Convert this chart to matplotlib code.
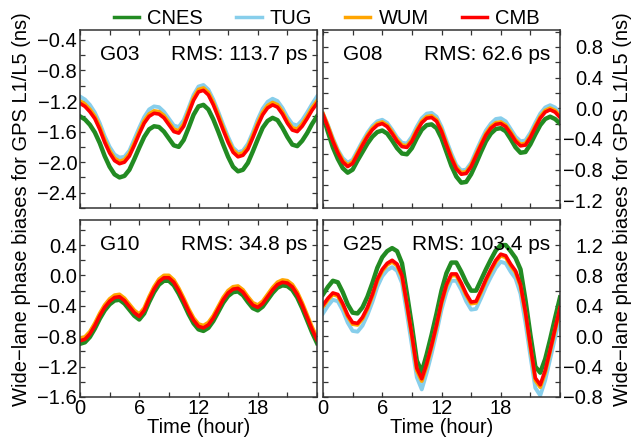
import numpy as np
import matplotlib
matplotlib.use("Agg")
import matplotlib.pyplot as plt
from matplotlib.ticker import MultipleLocator, FuncFormatter
from matplotlib.lines import Line2D

plt.rcParams["font.family"] = ["Liberation Sans", "DejaVu Sans"]

# ---- data (ns, half-hour steps) ----
hours = np.arange(0, 24.5, 0.5)

g03_cnes = [-1.40, -1.44, -1.51, -1.61, -1.75, -1.92, -2.06, -2.16, -2.20, -2.18, -2.10, -1.96, -1.81, -1.67, -1.57, -1.53, -1.54, -1.60, -1.69, -1.78, -1.80, -1.71, -1.55, -1.38, -1.27, -1.25, -1.31, -1.44, -1.60, -1.77, -1.93, -2.06, -2.12, -2.10, -2.01, -1.86, -1.70, -1.55, -1.46, -1.42, -1.45, -1.55, -1.67, -1.77, -1.79, -1.72, -1.62, -1.50, -1.40]
g03_tug = [-1.14, -1.18, -1.25, -1.35, -1.49, -1.66, -1.80, -1.90, -1.94, -1.93, -1.85, -1.70, -1.55, -1.41, -1.31, -1.27, -1.28, -1.34, -1.43, -1.52, -1.54, -1.45, -1.29, -1.12, -1.01, -0.99, -1.05, -1.18, -1.34, -1.51, -1.67, -1.81, -1.87, -1.85, -1.76, -1.61, -1.44, -1.30, -1.21, -1.17, -1.20, -1.29, -1.41, -1.50, -1.52, -1.45, -1.35, -1.24, -1.14]
g03_wum = [-1.20, -1.24, -1.31, -1.40, -1.54, -1.71, -1.85, -1.95, -1.99, -1.97, -1.89, -1.75, -1.60, -1.46, -1.37, -1.33, -1.34, -1.39, -1.48, -1.57, -1.59, -1.50, -1.33, -1.16, -1.05, -1.03, -1.09, -1.22, -1.38, -1.55, -1.71, -1.84, -1.90, -1.88, -1.80, -1.65, -1.49, -1.35, -1.26, -1.22, -1.25, -1.34, -1.46, -1.55, -1.57, -1.50, -1.40, -1.29, -1.20]
g03_cmb = [-1.23, -1.27, -1.34, -1.43, -1.57, -1.74, -1.88, -1.98, -2.02, -2.00, -1.92, -1.78, -1.63, -1.49, -1.40, -1.36, -1.37, -1.42, -1.51, -1.60, -1.62, -1.53, -1.36, -1.19, -1.08, -1.06, -1.12, -1.25, -1.41, -1.58, -1.74, -1.87, -1.93, -1.91, -1.83, -1.68, -1.52, -1.38, -1.29, -1.25, -1.28, -1.37, -1.49, -1.58, -1.60, -1.53, -1.43, -1.32, -1.23]

g08_cnes = [-0.10, -0.31, -0.51, -0.66, -0.78, -0.84, -0.80, -0.68, -0.57, -0.46, -0.37, -0.31, -0.29, -0.33, -0.42, -0.52, -0.59, -0.60, -0.52, -0.39, -0.28, -0.22, -0.21, -0.26, -0.39, -0.57, -0.75, -0.89, -0.97, -0.96, -0.86, -0.72, -0.57, -0.43, -0.33, -0.27, -0.26, -0.30, -0.40, -0.51, -0.58, -0.57, -0.47, -0.34, -0.22, -0.14, -0.11, -0.14, -0.20]
g08_tug = [-0.07, -0.22, -0.39, -0.54, -0.65, -0.71, -0.67, -0.55, -0.43, -0.32, -0.23, -0.17, -0.15, -0.19, -0.28, -0.38, -0.45, -0.46, -0.37, -0.24, -0.13, -0.07, -0.06, -0.11, -0.24, -0.42, -0.59, -0.74, -0.81, -0.80, -0.71, -0.56, -0.42, -0.29, -0.20, -0.14, -0.13, -0.17, -0.27, -0.37, -0.43, -0.42, -0.32, -0.19, -0.07, 0.01, 0.04, 0.01, -0.07]
g08_wum = [-0.07, -0.23, -0.41, -0.56, -0.68, -0.74, -0.70, -0.58, -0.46, -0.35, -0.26, -0.20, -0.18, -0.22, -0.31, -0.41, -0.48, -0.49, -0.41, -0.28, -0.17, -0.11, -0.10, -0.15, -0.28, -0.46, -0.63, -0.77, -0.84, -0.83, -0.74, -0.60, -0.46, -0.33, -0.24, -0.19, -0.18, -0.22, -0.31, -0.41, -0.47, -0.46, -0.36, -0.23, -0.11, -0.03, 0.00, -0.03, -0.10]
g08_cmb = [-0.08, -0.25, -0.43, -0.58, -0.70, -0.76, -0.72, -0.60, -0.48, -0.37, -0.28, -0.22, -0.20, -0.24, -0.33, -0.43, -0.50, -0.51, -0.43, -0.30, -0.19, -0.13, -0.12, -0.17, -0.30, -0.48, -0.65, -0.79, -0.86, -0.85, -0.76, -0.62, -0.48, -0.35, -0.26, -0.21, -0.20, -0.24, -0.33, -0.43, -0.49, -0.48, -0.38, -0.25, -0.13, -0.05, -0.02, -0.05, -0.12]

# G10 has no TUG solution
g10_cnes = [-0.90, -0.88, -0.81, -0.70, -0.57, -0.46, -0.38, -0.33, -0.32, -0.37, -0.45, -0.53, -0.58, -0.50, -0.35, -0.22, -0.12, -0.07, -0.07, -0.13, -0.24, -0.37, -0.51, -0.63, -0.71, -0.73, -0.69, -0.60, -0.48, -0.36, -0.27, -0.22, -0.21, -0.26, -0.35, -0.43, -0.46, -0.41, -0.32, -0.23, -0.16, -0.13, -0.14, -0.19, -0.29, -0.43, -0.59, -0.75, -0.89]
g10_wum = [-0.83, -0.81, -0.74, -0.63, -0.50, -0.39, -0.31, -0.26, -0.25, -0.30, -0.38, -0.46, -0.51, -0.43, -0.28, -0.15, -0.05, 0.00, 0.00, -0.06, -0.17, -0.30, -0.44, -0.56, -0.64, -0.66, -0.62, -0.53, -0.41, -0.29, -0.20, -0.15, -0.14, -0.19, -0.28, -0.36, -0.39, -0.34, -0.25, -0.16, -0.09, -0.06, -0.07, -0.12, -0.22, -0.36, -0.52, -0.68, -0.82]
g10_cmb = [-0.86, -0.84, -0.77, -0.66, -0.53, -0.42, -0.34, -0.29, -0.28, -0.33, -0.41, -0.49, -0.54, -0.46, -0.31, -0.18, -0.08, -0.03, -0.03, -0.09, -0.20, -0.33, -0.47, -0.59, -0.67, -0.69, -0.65, -0.56, -0.44, -0.32, -0.23, -0.18, -0.17, -0.22, -0.31, -0.39, -0.42, -0.37, -0.28, -0.19, -0.12, -0.09, -0.10, -0.15, -0.25, -0.39, -0.55, -0.71, -0.85]

g25_cnes = [0.55, 0.65, 0.73, 0.71, 0.58, 0.42, 0.31, 0.30, 0.38, 0.52, 0.70, 0.90, 1.04, 1.12, 1.16, 1.12, 0.96, 0.56, 0.14, -0.32, -0.47, -0.24, 0.02, 0.30, 0.60, 0.83, 0.97, 0.97, 0.85, 0.71, 0.60, 0.60, 0.74, 0.88, 1.01, 1.13, 1.20, 1.20, 1.12, 1.03, 0.88, 0.48, 0.02, -0.40, -0.48, -0.30, -0.04, 0.24, 0.51]
g25_tug = [0.30, 0.40, 0.48, 0.46, 0.34, 0.18, 0.07, 0.06, 0.14, 0.28, 0.45, 0.65, 0.79, 0.87, 0.91, 0.86, 0.70, 0.30, -0.12, -0.54, -0.70, -0.48, -0.23, 0.05, 0.35, 0.58, 0.73, 0.73, 0.61, 0.46, 0.35, 0.36, 0.50, 0.65, 0.78, 0.90, 0.98, 0.96, 0.85, 0.76, 0.56, 0.18, -0.26, -0.68, -0.78, -0.58, -0.30, -0.02, 0.25]
g25_wum = [0.39, 0.48, 0.55, 0.53, 0.41, 0.26, 0.16, 0.15, 0.23, 0.36, 0.53, 0.73, 0.86, 0.94, 0.98, 0.93, 0.78, 0.40, 0.00, -0.45, -0.59, -0.39, -0.14, 0.13, 0.43, 0.66, 0.80, 0.80, 0.68, 0.54, 0.43, 0.44, 0.58, 0.73, 0.86, 0.98, 1.06, 1.04, 0.93, 0.84, 0.66, 0.30, -0.15, -0.58, -0.67, -0.48, -0.20, 0.08, 0.36]
g25_cmb = [0.41, 0.50, 0.57, 0.55, 0.43, 0.28, 0.18, 0.17, 0.25, 0.38, 0.55, 0.75, 0.88, 0.96, 1.00, 0.95, 0.80, 0.42, 0.02, -0.42, -0.56, -0.36, -0.12, 0.15, 0.45, 0.68, 0.82, 0.82, 0.70, 0.56, 0.45, 0.46, 0.60, 0.75, 0.88, 1.00, 1.08, 1.06, 0.95, 0.86, 0.68, 0.32, -0.12, -0.55, -0.64, -0.45, -0.18, 0.10, 0.38]

sats = ["G03", "G08", "G10", "G25"]
rms = ["113.7", "62.6", "34.8", "103.4"]
ylims = [(-2.6, -0.27), (-1.3, 1.02), (-1.6, 0.73), (-0.8, 1.53)]
series = [
    {"CNES": g03_cnes, "TUG": g03_tug, "WUM": g03_wum, "CMB": g03_cmb},
    {"CNES": g08_cnes, "TUG": g08_tug, "WUM": g08_wum, "CMB": g08_cmb},
    {"CNES": g10_cnes, "TUG": None, "WUM": g10_wum, "CMB": g10_cmb},
    {"CNES": g25_cnes, "TUG": g25_tug, "WUM": g25_wum, "CMB": g25_cmb},
]

colors = {"CNES": "#228B22", "TUG": "#87CEEB", "WUM": "#FFA500", "CMB": "#FF0000"}
widths = {"CNES": 3.2, "TUG": 2.8, "WUM": 2.8, "CMB": 2.6}
draw_order = ["TUG", "CNES", "WUM", "CMB"]
legend_order = ["CNES", "TUG", "WUM", "CMB"]

# ---- figure layout in pixels ----
W, H = 635, 438
fig = plt.figure(figsize=(W / 100, H / 100), dpi=100)

def px_axes(x0, y0, x1, y1):
    return fig.add_axes([x0 / W, 1 - y1 / H, (x1 - x0) / W, (y1 - y0) / H])

def fmt_ns(v, pos):
    return ("%.1f" % v).replace("-", "\u2212")

boxes = [(80, 30, 317, 208), (323, 30, 560, 208),
         (80, 220, 317, 397), (323, 220, 560, 397)]

FS = 14.5
for i, box in enumerate(boxes):
    ax = px_axes(*box)
    for name in draw_order:
        vals = series[i][name]
        if vals is None:
            continue
        ax.plot(hours, vals, color=colors[name], lw=widths[name],
                solid_joinstyle="round")
    ax.set_xlim(0, 24)
    ax.set_ylim(*ylims[i])
    ax.set_xticks([0, 6, 12, 18])
    ax.xaxis.set_minor_locator(MultipleLocator(3))
    ax.yaxis.set_major_locator(MultipleLocator(0.4))
    ax.yaxis.set_minor_locator(MultipleLocator(0.2))
    ax.yaxis.set_major_formatter(FuncFormatter(fmt_ns))
    ax.tick_params(which="both", direction="in", top=True, right=True,
                   length=3.5, width=0.9, labelsize=FS, color="#333333")
    ax.tick_params(axis="x", pad=1.5)
    for sp in ax.spines.values():
        sp.set_linewidth(1.1)
        sp.set_color("#333333")
    if i < 2:
        ax.tick_params(axis="x", labelbottom=False)
    if i % 2 == 1:
        ax.tick_params(axis="y", labelleft=False, labelright=True, pad=31)
        for lab in ax.get_yticklabels(which="major"):
            lab.set_horizontalalignment("right")
    else:
        ax.tick_params(axis="y", pad=2)
    ax.text(0.085, 0.86, sats[i], transform=ax.transAxes, fontsize=FS + 0.5,
            ha="left", va="center")
    ax.text(0.96, 0.86, "RMS: %s ps" % rms[i], transform=ax.transAxes,
            fontsize=FS + 0.5, ha="right", va="center")
    if i >= 2:
        ax.set_xlabel("Time (hour)", fontsize=FS, labelpad=0)

ylab = "Wide\u2212lane phase biases for GPS L1/L5 (ns)"
fig.text(21.5 / W, 1 - 209 / H, ylab, rotation=90, ha="center", va="center",
         fontsize=FS)
fig.text(622 / W, 1 - 209 / H, ylab, rotation=90, ha="center", va="center",
         fontsize=FS)

handles = [Line2D([], [], color=colors[n], lw=2.5) for n in legend_order]
fig.legend(handles, legend_order, loc="center", ncol=4, frameon=False,
           bbox_to_anchor=(327 / W, 1 - 19 / H), fontsize=FS,
           handlelength=1.25, handletextpad=0.4, columnspacing=1.65,
           borderpad=0, borderaxespad=0)

fig.savefig("out.png", dpi=100)
